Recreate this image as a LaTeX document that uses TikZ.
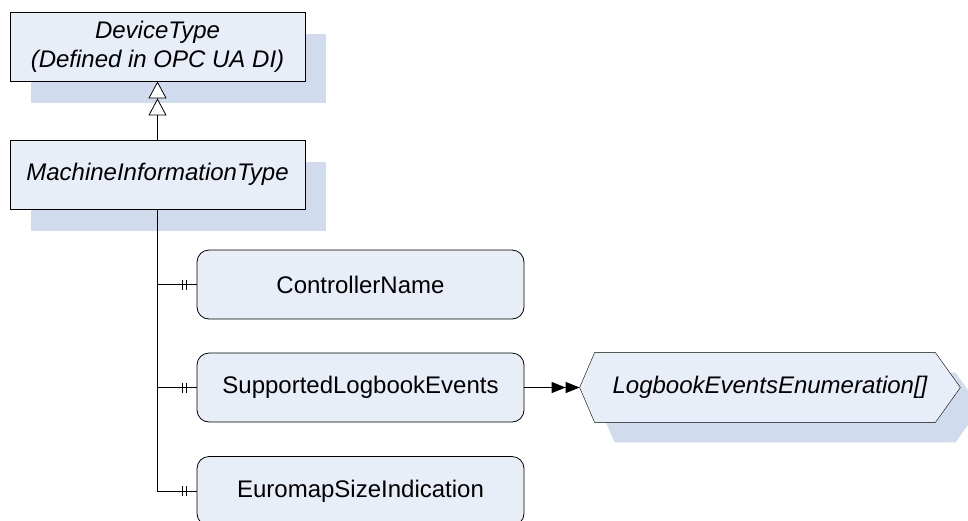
\documentclass[tikz,border=0pt]{standalone}
\usepackage{fontspec}
\setmainfont{Liberation Sans}
\usetikzlibrary{arrows.meta,shadows,backgrounds,calc}
\definecolor{boxfill}{RGB}{232,238,247}
\definecolor{boxshadow}{RGB}{208,220,238}
% outline of the enumeration node, moved by (#1,#2)
\newcommand{\lbhex}[2]{($(lee.west)+(#1,#2)$) -- ($(lee.north west)+(15+#1,#2)$)
    -- ($(lee.north east)+(-25+#1,#2)$) -- ($(lee.east)+(#1,#2)$)
    -- ($(lee.south east)+(-25+#1,#2)$) -- ($(lee.south west)+(15+#1,#2)$) -- cycle}

\begin{document}
\begin{tikzpicture}[x=1pt,y=-1pt,line width=0.8pt,
        typebox/.style={draw,fill=boxfill,minimum width=295pt,minimum height=69pt,
            inner sep=0pt,align=center,font=\fontsize{24}{29}\selectfont\itshape,
            drop shadow={shadow xshift=21pt,shadow yshift=-22pt,fill=boxshadow,opacity=1}},
        varbox/.style={draw,fill=boxfill,rounded corners=12pt,minimum width=327pt,
            minimum height=69pt,inner sep=0pt,font=\fontsize{24}{29}\selectfont},
        enumtext/.style={minimum width=380pt,minimum height=69pt,inner sep=0pt,
            font=\fontsize{24}{29}\selectfont\itshape}]
        \useasboundingbox (0,0) rectangle (968,520);
        \clip (0,0) rectangle (968,520);

        %% Types
        \node[typebox] (dt) at (157.5,46.5) {DeviceType\\(Defined in OPC UA DI)};
        \node[typebox] (mit) at (157.5,174.5) {MachineInformationType};

        % Variables
        \node[varbox] (cn) at (360.5,284.5) {ControllerName};
        \node[varbox] (sle) at (360.5,387.5) {SupportedLogbookEvents};
        \node[varbox] (esi) at (360.5,491) {EuromapSizeIndication};

        % Data type
        \node[enumtext] (lee) at (770,387.5) {LogbookEventsEnumeration[]};
        \begin{scope}[on background layer]
                \fill[boxshadow] \lbhex{20}{20};
                \draw[fill=boxfill] \lbhex{0}{0};
        \end{scope}

        % Subtype
        \draw[-{Triangle[open,fill=white,length=17pt,width=18pt]Triangle[open,fill=white,length=17pt,width=18pt]}]
                (mit.north) -- (dt.south);

        % Components
        \draw (mit.south) -- (mit.south |- esi.west) -- (esi.west);
        \foreach \v in {cn,sle} {
                \draw (mit.south |- \v.west) -- (\v.west);
                }
        \foreach \v in {cn,sle,esi} {
                \draw ([xshift=-14.5pt]\v.west) +(0,-5) -- +(0,5);
                \draw ([xshift=-10.5pt]\v.west) +(0,-5) -- +(0,5);
                }

        % Data type reference
        \draw[-{Triangle[length=14pt,width=11pt]Triangle[length=14pt,width=11pt]}]
                (sle.east) -- (lee.west);
    \end{tikzpicture}
\end{document}
